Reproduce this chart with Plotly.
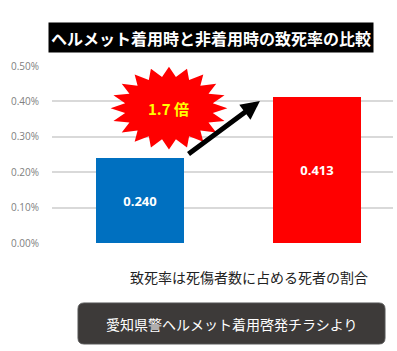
import numpy as np
import plotly.graph_objects as go

categories = ["ヘルメット着用", "ヘルメット非着用"]
fatality_rate = [0.240, 0.413]
bar_colors = ["#0070C0", "#FF0000"]
tick_vals = [0.0, 0.1, 0.2, 0.3, 0.4, 0.5]
tick_text = ["0.00%", "0.10%", "0.20%", "0.30%", "0.40%", "0.50%"]
ratio_label = "1.7 倍"
title_text = "ヘルメット着用時と非着用時の致死率の比較"
note_text = "致死率は死傷者数に占める死者の割合"
source_text = "愛知県警ヘルメット着用啓発チラシより"

W, H = 397, 351
L, R, T, B = 52, 4, 66, 108
PW, PH = W - L - R, H - T - B


def px(xp):
    return (xp - L) / PW


def py(yp):
    return (H - B - yp) / PH


xpos = [0, 1]
fig = go.Figure()
fig.add_trace(go.Bar(
    x=xpos, y=fatality_rate, width=0.497,
    marker=dict(color=bar_colors, line=dict(width=0)),
    text=[f"{v:.3f}" for v in fatality_rate],
    textposition="inside", insidetextanchor="middle",
    textfont=dict(color="white", size=13, family="Open Sans", weight="bold"),
    hoverinfo="skip", cliponaxis=False,
))

# starburst (decoration) around the ratio label
n = 20
cx, cy = 0.164, 0.381
rx, ry = 0.330, 0.117
ang = np.linspace(0, 2 * np.pi, 2 * n + 1)
rad = np.where(np.arange(2 * n + 1) % 2 == 0, 1.0, 0.76)
fig.add_trace(go.Scatter(
    x=cx + rx * rad * np.cos(ang), y=cy + ry * rad * np.sin(ang),
    mode="lines", fill="toself", fillcolor="#FF0000",
    line=dict(color="#FF0000", width=0), hoverinfo="skip", showlegend=False,
))
fig.add_annotation(x=cx, y=cy, xref="x", yref="y", text=ratio_label, showarrow=False,
                   font=dict(color="#FFFF00", size=15, family="Noto Sans CJK JP", weight="bold"))

# arrow
fig.add_annotation(x=0.678, y=0.401, ax=0.266, ay=0.248, xref="x", yref="y",
                   axref="x", ayref="y", text="", showarrow=True,
                   arrowhead=2, arrowsize=0.75, arrowwidth=5, arrowcolor="black", standoff=0)

# title box
fig.add_annotation(x=px(211), y=py(37.5), xref="paper", yref="paper", text=title_text,
                   showarrow=False, bgcolor="black", width=322, height=27,
                   font=dict(color="white", size=16, family="Noto Sans CJK JP", weight="bold"),
                   xanchor="center", yanchor="middle")

# note
fig.add_annotation(x=px(249), y=py(277), xref="paper", yref="paper", text=note_text,
                   showarrow=False, font=dict(color="#222222", size=14, family="Noto Sans CJK JP"),
                   xanchor="center", yanchor="middle")

# source rounded box
x0, x1, y0, y1, r = 78, 385, 303, 344, 6
def pt(a, b):
    return f"{px(a):.5f},{py(b):.5f}"
path = (f"M {pt(x0 + r, y0)} L {pt(x1 - r, y0)} Q {pt(x1, y0)} {pt(x1, y0 + r)} "
        f"L {pt(x1, y1 - r)} Q {pt(x1, y1)} {pt(x1 - r, y1)} L {pt(x0 + r, y1)} "
        f"Q {pt(x0, y1)} {pt(x0, y1 - r)} L {pt(x0, y0 + r)} Q {pt(x0, y0)} {pt(x0 + r, y0)} Z")
fig.add_shape(type="path", path=path, xref="paper", yref="paper",
              fillcolor="#3d3a39", line=dict(color="#555555", width=1))
fig.add_annotation(x=px(231.5), y=py(323.5), xref="paper", yref="paper", text=source_text,
                   showarrow=False, font=dict(color="white", size=14, family="Noto Sans CJK JP"),
                   xanchor="center", yanchor="middle")

fig.update_layout(
    width=W, height=H, margin=dict(l=L, r=R, t=T, b=B),
    paper_bgcolor="white", plot_bgcolor="white", showlegend=False,
    xaxis=dict(range=[-0.497, 1.43], showticklabels=False, showgrid=False,
               zeroline=False, fixedrange=True),
    yaxis=dict(range=[0, 0.5], tickmode="array", tickvals=tick_vals, ticktext=tick_text,
               showgrid=True, gridcolor="#d9d9d9", gridwidth=1.5, zeroline=False,
               ticklabelstandoff=12,
               tickfont=dict(color="#808080", size=10, family="Open Sans")),
    bargap=0,
)
fig.write_html("out.html")
